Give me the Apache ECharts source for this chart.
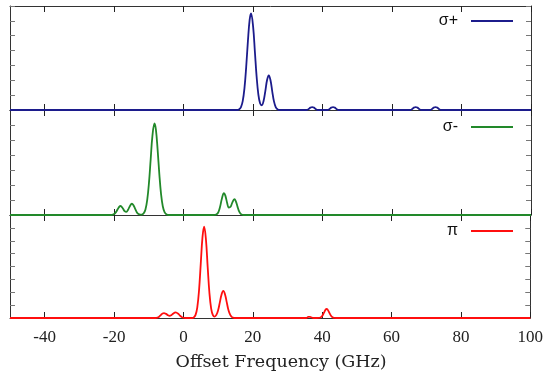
<!DOCTYPE html>
<html>
<head>
<meta charset="utf-8">
<script src="https://cdn.jsdelivr.net/npm/echarts@6/dist/echarts.min.js"></script>
<style>
  html, body { margin: 0; padding: 0; background: #ffffff; }
  #chart { width: 546px; height: 372px; }
</style>
</head>
<body>
<div id="chart"></div>
<script>
// Spectra of the three polarisation components versus offset frequency (GHz)
const xTickValues = [-40, -20, 0, 20, 40, 60, 80, 100];

const sigmaPlusFreq = [-50, 15.5, 16, 16.5, 17, 17.5, 18, 18.5, 19, 19.4, 20, 20.5, 21, 21.5, 22, 22.5, 23, 23.5, 24, 24.5, 25, 25.5, 26, 26.5, 27, 27.5,
  35.5, 36, 36.5, 37, 37.5, 38, 38.5, 41.5, 42, 42.5, 43, 43.5, 44, 44.5,
  65.3, 65.8, 66.3, 66.8, 67.3, 67.8, 68.3, 71, 71.5, 72, 72.5, 73, 73.5, 74, 100];
const sigmaPlusVal = [0, 0, 0.05, 0.2, 0.6, 1.46, 2.89, 4.65, 6.08, 6.5, 5.6, 3.94, 2.26, 1.05, 0.45, 0.32, 0.61, 1.26, 2.0, 2.33, 2.0, 1.26, 0.58, 0.2, 0.05, 0,
  0, 0.07, 0.16, 0.2, 0.16, 0.07, 0, 0, 0.07, 0.16, 0.2, 0.16, 0.07, 0,
  0, 0.07, 0.16, 0.2, 0.16, 0.07, 0, 0, 0.07, 0.16, 0.2, 0.16, 0.07, 0, 0];

const sigmaMinusFreq = [-50, -21, -20.5, -20, -19.5, -19, -18.5, -18.2, -17.5, -17, -16.5, -16, -15.5, -14.9, -14.5, -14, -13.5, -13, -12.5, -12,
  -11.5, -11, -10.5, -10, -9.5, -9, -8.4, -8, -7.5, -7, -6.5, -6, -5.5, -5, -4.5, -4,
  8.5, 9, 9.5, 10, 10.5, 11, 11.6, 12, 12.5, 13, 13.5, 14, 14.6, 15, 15.5, 16, 16.5, 17, 17.5, 100];
const sigmaMinusVal = [0, 0, 0.015, 0.064, 0.19, 0.385, 0.564, 0.6, 0.434, 0.255, 0.21, 0.35, 0.59, 0.75, 0.67, 0.43, 0.19, 0.06, 0.02, 0.03,
  0.115, 0.37, 0.99, 2.12, 3.7, 5.26, 6.1, 5.71, 4.36, 2.71, 1.37, 0.565, 0.189, 0.051, 0.01, 0,
  0, 0.007, 0.046, 0.196, 0.56, 1.09, 1.45, 1.29, 0.82, 0.5, 0.55, 0.83, 1.05, 0.93, 0.56, 0.23, 0.063, 0.012, 0, 0];

const piFreq = [-50, -8, -7.5, -7, -6.5, -6, -5.6, -5, -4.5, -4, -3.5, -3, -2.5, -2.2, -2, -1.5, -1, -0.5, 0, 0.5,
  2.5, 3, 3.5, 4, 4.5, 5, 5.5, 5.97, 6.5, 7, 7.5, 8, 8.5, 9, 9.5, 10, 10.5, 11, 11.5, 12, 12.5, 13, 13.5, 14, 14.5, 15,
  35.5, 36, 36.5, 37, 37.5, 38.5, 39, 39.5, 40, 40.5, 41, 41.3, 41.5, 42, 42.5, 43, 43.5, 44, 100];
const piVal = [0, 0, 0.03, 0.1, 0.23, 0.35, 0.38, 0.32, 0.22, 0.17, 0.22, 0.33, 0.42, 0.44, 0.43, 0.33, 0.19, 0.08, 0.02, 0,
  0, 0.053, 0.24, 0.83, 2.14, 4.22, 6.28, 7.1, 6.08, 3.94, 1.94, 0.73, 0.22, 0.11, 0.24, 0.6, 1.21, 1.83, 2.1, 1.83, 1.21, 0.6, 0.24, 0.066, 0.014, 0,
  0, 0.08, 0.09, 0.04, 0, 0, 0.006, 0.039, 0.156, 0.4, 0.65, 0.7, 0.675, 0.45, 0.195, 0.054, 0.01, 0, 0];

const seriesNames = ['σ+', 'σ-', 'π'];
const seriesColors = ['#1c1c8c', '#22892a', '#ff0f0f'];
const yMaxes = [7, 7, 8];

const zip = (xs, ys) => xs.map((x, i) => [x, ys[i]]);
const seriesData = [
  zip(sigmaPlusFreq, sigmaPlusVal),
  zip(sigmaMinusFreq, sigmaMinusVal),
  zip(piFreq, piVal)
];

const panels = [
  { top: 6, height: 104, legendTop: 13 },
  { top: 110, height: 105, legendTop: 119 },
  { top: 215, height: 104, legendTop: 223 }
];

const lineColor = '#333333';
const grid = [], xAxis = [], yAxis = [], series = [], legend = [];

panels.forEach((p, i) => {
  grid.push({ left: 10, right: 15, top: p.top, height: p.height, containLabel: false });
  const isLast = i === panels.length - 1;
  // bottom x axis
  xAxis.push({
    type: 'value', gridIndex: i, position: 'bottom', min: -50, max: 100,
    axisLine: { show: true, onZero: false, lineStyle: { color: lineColor, width: 1 } },
    axisTick: { show: true, inside: true, length: 6, customValues: xTickValues, lineStyle: { color: '#222', width: 1 } },
    axisLabel: {
      show: isLast, customValues: xTickValues, margin: 11,
      fontFamily: 'Liberation Serif', fontSize: 17, color: '#222'
    },
    splitLine: { show: false },
    name: isLast ? 'Offset Frequency (GHz)' : '',
    nameLocation: 'middle', nameGap: 35,
    nameTextStyle: { fontFamily: 'DejaVu Serif', fontSize: 17.5, color: '#222', padding: [0, 0, 0, 22] }
  });
  // top x axis (ticks only)
  xAxis.push({
    type: 'value', gridIndex: i, position: 'top', min: -50, max: 100,
    axisLine: { show: true, onZero: false, lineStyle: { color: lineColor, width: 1 } },
    axisTick: { show: true, inside: true, length: 6, customValues: xTickValues, lineStyle: { color: '#222', width: 1 } },
    axisLabel: { show: false },
    splitLine: { show: false }
  });
  ['left', 'right'].forEach(pos => {
    yAxis.push({
      type: 'value', gridIndex: i, position: pos, min: 0, max: yMaxes[i], interval: 1,
      axisLine: { show: true, onZero: false, lineStyle: { color: lineColor, width: 1 } },
      axisTick: { show: true, inside: true, length: 5, lineStyle: { color: '#777', width: 1 } },
      axisLabel: { show: false },
      splitLine: { show: false }
    });
  });
  series.push({
    name: seriesNames[i], type: 'line',
    xAxisIndex: i * 2, yAxisIndex: i * 2,
    data: seriesData[i],
    showSymbol: false, symbol: 'none',
    smooth: 0.4, clip: false,
    color: seriesColors[i],
    lineStyle: { color: seriesColors[i], width: 1.8 },
    z: 5
  });
  legend.push({
    data: [seriesNames[i]], right: 33, top: p.legendTop, padding: 0,
    align: 'right', icon: 'rect', itemWidth: 42, itemHeight: 2,
    itemStyle: { color: seriesColors[i] },
    textStyle: { fontFamily: 'Liberation Sans', fontSize: 16, color: '#111', padding: [0, 8, 0, 0] },
    selectedMode: false
  });
});

const chart = echarts.init(document.getElementById('chart'), null, { renderer: 'canvas' });
chart.setOption({
  animation: false,
  backgroundColor: '#ffffff',
  grid, xAxis, yAxis, series, legend
});
</script>
</body>
</html>
